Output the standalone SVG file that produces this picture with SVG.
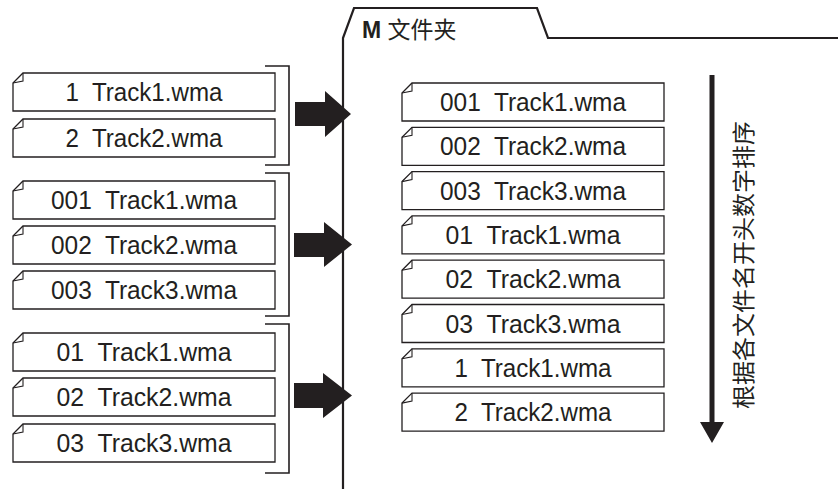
<svg xmlns="http://www.w3.org/2000/svg" width="838" height="489" viewBox="0 0 838 489">
<defs>
<style>
.box{fill:#fff;stroke:#231f20;stroke-width:1.3}
.fold{fill:none;stroke:#231f20;stroke-width:1.1}
.lbl{font-family:"Liberation Sans",Arial,sans-serif;font-size:25px;fill:#231f20;text-anchor:middle;white-space:pre}
.br{fill:none;stroke:#231f20;stroke-width:1.6}
.big{fill:#231f20}
.folder{fill:none;stroke:#231f20;stroke-width:2.2}
</style>
<g id="file">
<path class="box" d="M10,0 H262 V38 H0 V10 Z"/>
<path class="fold" d="M10,0 V8 L0,10"/>
</g>
</defs>

<g id="folder">
<path class="folder" d="M343,489 V38 L354,8 H537 L548,38 H838"/>
<text x="362" y="38" style="font-family:'Liberation Sans','Noto Sans CJK SC',sans-serif;font-size:23px;fill:#231f20"><tspan font-weight="bold">M</tspan> 文件夹</text>
</g>

<g id="group1">
<use href="#file" x="13" y="73"/><text class="lbl" x="144" y="101" textLength="157" lengthAdjust="spacingAndGlyphs">1  Track1.wma</text>
<use href="#file" x="13" y="119"/><text class="lbl" x="144" y="147" textLength="157" lengthAdjust="spacingAndGlyphs">2  Track2.wma</text>
<path class="br" d="M265,66 H289 V165 H265"/>
</g>

<g id="group2">
<use href="#file" x="13" y="181"/><text class="lbl" x="144" y="209" textLength="186" lengthAdjust="spacingAndGlyphs">001  Track1.wma</text>
<use href="#file" x="13" y="226"/><text class="lbl" x="144" y="254" textLength="186" lengthAdjust="spacingAndGlyphs">002  Track2.wma</text>
<use href="#file" x="13" y="271"/><text class="lbl" x="144" y="299" textLength="186" lengthAdjust="spacingAndGlyphs">003  Track3.wma</text>
<path class="br" d="M265,173 H289 V316 H265"/>
</g>

<g id="group3">
<use href="#file" x="13" y="333"/><text class="lbl" x="144" y="361" textLength="175" lengthAdjust="spacingAndGlyphs">01  Track1.wma</text>
<use href="#file" x="13" y="378"/><text class="lbl" x="144" y="406" textLength="175" lengthAdjust="spacingAndGlyphs">02  Track2.wma</text>
<use href="#file" x="13" y="424"/><text class="lbl" x="144" y="452" textLength="175" lengthAdjust="spacingAndGlyphs">03  Track3.wma</text>
<path class="br" d="M265,324 H289 V473 H265"/>
</g>

<g id="sorted">
<use href="#file" x="402" y="83"/><text class="lbl" x="533" y="111" textLength="186" lengthAdjust="spacingAndGlyphs">001  Track1.wma</text>
<use href="#file" x="402" y="127.3"/><text class="lbl" x="533" y="155.3" textLength="186" lengthAdjust="spacingAndGlyphs">002  Track2.wma</text>
<use href="#file" x="402" y="171.6"/><text class="lbl" x="533" y="199.6" textLength="186" lengthAdjust="spacingAndGlyphs">003  Track3.wma</text>
<use href="#file" x="402" y="215.9"/><text class="lbl" x="533" y="243.9" textLength="175" lengthAdjust="spacingAndGlyphs">01  Track1.wma</text>
<use href="#file" x="402" y="260.2"/><text class="lbl" x="533" y="288.2" textLength="175" lengthAdjust="spacingAndGlyphs">02  Track2.wma</text>
<use href="#file" x="402" y="304.5"/><text class="lbl" x="533" y="332.5" textLength="175" lengthAdjust="spacingAndGlyphs">03  Track3.wma</text>
<use href="#file" x="402" y="348.8"/><text class="lbl" x="533" y="376.8" textLength="157" lengthAdjust="spacingAndGlyphs">1  Track1.wma</text>
<use href="#file" x="402" y="393.1"/><text class="lbl" x="533" y="421.1" textLength="157" lengthAdjust="spacingAndGlyphs">2  Track2.wma</text>
</g>

<g id="connectors">
<path class="big" d="M295,102 H325 V91 L351,114 L325,137 V126 H295 Z"/>
<path class="big" d="M294,233 H324 V222 L352,244.5 L324,267 V257 H294 Z"/>
<path class="big" d="M294,383 H323 V373 L352,395.5 L323,418 V408 H294 Z"/>
<path class="big" d="M709.5,75 H714.5 V422 H724 L712,443 L700,422 H709.5 Z"/>
</g>

<g id="sortlabel">
<text transform="translate(742,265) rotate(-90)" dominant-baseline="central" text-anchor="middle" style="font-family:'Noto Sans CJK SC',sans-serif;font-size:23px;fill:#231f20" textLength="288" lengthAdjust="spacingAndGlyphs">根据各文件名开头数字排序</text>
</g>
</svg>
